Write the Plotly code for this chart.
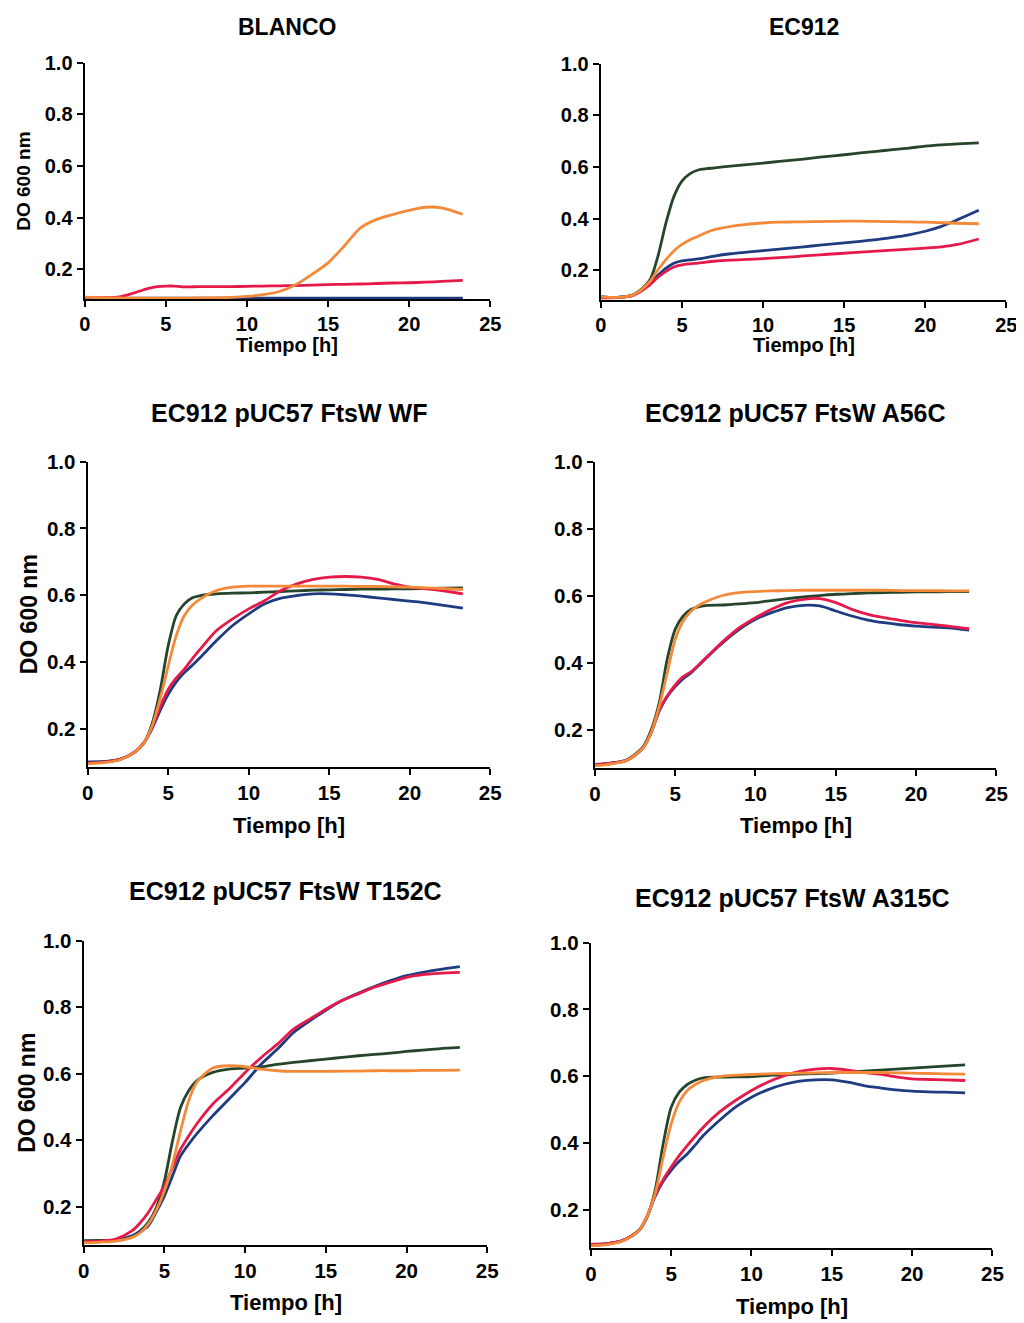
import plotly.graph_objects as go

W, H = 1024, 1323

# Time points (h)
T = [0, 1, 2, 3, 3.5, 4, 4.5, 5, 5.5, 6, 6.5, 7, 8, 9, 10, 11, 12, 13, 14, 15, 16, 17, 18, 19, 20, 21, 22, 23.3]

titles = ["BLANCO", "EC912", "EC912 pUC57 FtsW WF", "EC912 pUC57 FtsW A56C",
          "EC912 pUC57 FtsW T152C", "EC912 pUC57 FtsW A315C"]

# ---- BLANCO
blanco_green = [0.086, 0.086, 0.086, 0.086, 0.086, 0.086, 0.086, 0.086, 0.086, 0.086, 0.086, 0.086, 0.086, 0.086,
                0.086, 0.086, 0.086, 0.086, 0.086, 0.086, 0.086, 0.086, 0.086, 0.086, 0.086, 0.086, 0.086, 0.086]
blanco_blue = [0.088, 0.088, 0.088, 0.088, 0.088, 0.088, 0.088, 0.088, 0.088, 0.088, 0.088, 0.088, 0.088, 0.088,
               0.088, 0.088, 0.088, 0.088, 0.088, 0.088, 0.088, 0.088, 0.088, 0.088, 0.088, 0.088, 0.088, 0.088]
blanco_red = [0.09, 0.09, 0.092, 0.108, 0.118, 0.127, 0.133, 0.135, 0.135, 0.132, 0.132, 0.133, 0.133, 0.133,
              0.134, 0.135, 0.136, 0.137, 0.139, 0.141, 0.142, 0.143, 0.145, 0.147, 0.148, 0.15, 0.153, 0.157]
blanco_orange = [0.092, 0.09, 0.089, 0.088, 0.088, 0.088, 0.088, 0.088, 0.088, 0.088, 0.088, 0.089, 0.089, 0.091,
                 0.095, 0.102, 0.114, 0.14, 0.18, 0.225, 0.29, 0.36, 0.393, 0.412, 0.428, 0.44, 0.438, 0.413]

# ---- EC912
ec_green = [0.097, 0.095, 0.105, 0.16, 0.25, 0.38, 0.485, 0.545, 0.574, 0.588, 0.593, 0.596, 0.603, 0.609,
            0.615, 0.621, 0.627, 0.634, 0.641, 0.647, 0.654, 0.66, 0.667, 0.673, 0.68, 0.685, 0.689, 0.693]
ec_orange = [0.097, 0.095, 0.105, 0.155, 0.2, 0.24, 0.275, 0.3, 0.318, 0.332, 0.346, 0.357, 0.37, 0.378,
             0.383, 0.386, 0.387, 0.388, 0.389, 0.39, 0.39, 0.389, 0.388, 0.387, 0.386, 0.384, 0.382, 0.38]
ec_blue = [0.097, 0.095, 0.105, 0.15, 0.18, 0.207, 0.227, 0.236, 0.24, 0.244, 0.249, 0.255, 0.264, 0.27,
           0.276, 0.282, 0.288, 0.294, 0.3, 0.306, 0.312, 0.319, 0.327, 0.337, 0.351, 0.37, 0.396, 0.432]
ec_red = [0.093, 0.094, 0.103, 0.143, 0.172, 0.195, 0.213, 0.221, 0.225, 0.228, 0.232, 0.235, 0.239, 0.242,
          0.245, 0.249, 0.253, 0.258, 0.262, 0.266, 0.27, 0.274, 0.278, 0.282, 0.286, 0.291, 0.3, 0.321]

# ---- WF
wf_green = [0.1, 0.101, 0.108, 0.133, 0.158, 0.215, 0.315, 0.449, 0.539, 0.574, 0.592, 0.599, 0.604, 0.606,
            0.607, 0.609, 0.611, 0.613, 0.615, 0.616, 0.617, 0.618, 0.618, 0.619, 0.619, 0.62, 0.621, 0.622]
wf_orange = [0.095, 0.098, 0.107, 0.133, 0.158, 0.208, 0.29, 0.388, 0.479, 0.539, 0.57, 0.589, 0.614, 0.624,
             0.627, 0.627, 0.627, 0.627, 0.627, 0.627, 0.627, 0.626, 0.626, 0.625, 0.624, 0.622, 0.62, 0.617]
wf_red = [0.097, 0.1, 0.108, 0.133, 0.158, 0.205, 0.265, 0.318, 0.352, 0.378, 0.41, 0.439, 0.494, 0.529,
          0.559, 0.584, 0.614, 0.634, 0.647, 0.654, 0.656, 0.654, 0.647, 0.634, 0.624, 0.619, 0.614, 0.604]
wf_blue = [0.1, 0.101, 0.108, 0.133, 0.158, 0.2, 0.255, 0.303, 0.34, 0.368, 0.39, 0.414, 0.464, 0.509,
           0.544, 0.574, 0.591, 0.599, 0.604, 0.604, 0.601, 0.597, 0.592, 0.587, 0.582, 0.577, 0.57, 0.561]

# ---- A56C
a56_green = [0.096, 0.1, 0.11, 0.148, 0.198, 0.278, 0.409, 0.499, 0.539, 0.559, 0.567, 0.571, 0.572, 0.575,
             0.579, 0.585, 0.591, 0.596, 0.6, 0.604, 0.606, 0.608, 0.609, 0.61, 0.611, 0.611, 0.612, 0.612]
a56_orange = [0.092, 0.097, 0.108, 0.145, 0.19, 0.268, 0.368, 0.469, 0.524, 0.554, 0.572, 0.584, 0.601, 0.609,
              0.612, 0.614, 0.615, 0.616, 0.616, 0.616, 0.616, 0.616, 0.616, 0.615, 0.615, 0.615, 0.614, 0.614]
a56_red = [0.095, 0.099, 0.108, 0.145, 0.19, 0.258, 0.3, 0.333, 0.358, 0.373, 0.395, 0.418, 0.464, 0.504,
           0.534, 0.559, 0.579, 0.589, 0.591, 0.579, 0.559, 0.544, 0.534, 0.526, 0.519, 0.514, 0.509, 0.501]
a56_blue = [0.095, 0.099, 0.108, 0.145, 0.19, 0.255, 0.298, 0.328, 0.352, 0.37, 0.393, 0.417, 0.461, 0.499,
            0.529, 0.549, 0.564, 0.571, 0.569, 0.554, 0.539, 0.527, 0.519, 0.513, 0.509, 0.506, 0.504, 0.497]

# ---- T152C
t152_green = [0.098, 0.099, 0.1, 0.113, 0.128, 0.153, 0.198, 0.278, 0.398, 0.499, 0.549, 0.579, 0.604, 0.614,
              0.617, 0.621, 0.628, 0.634, 0.639, 0.644, 0.649, 0.654, 0.658, 0.662, 0.667, 0.671, 0.675, 0.679]
t152_orange = [0.092, 0.094, 0.097, 0.108, 0.122, 0.148, 0.19, 0.248, 0.328, 0.429, 0.519, 0.574, 0.617, 0.624,
               0.621, 0.614, 0.609, 0.607, 0.607, 0.607, 0.608, 0.608, 0.609, 0.609, 0.609, 0.61, 0.61, 0.611]
t152_red = [0.095, 0.097, 0.103, 0.128, 0.152, 0.183, 0.222, 0.263, 0.318, 0.373, 0.413, 0.449, 0.509, 0.554,
            0.604, 0.649, 0.689, 0.734, 0.764, 0.794, 0.82, 0.84, 0.86, 0.875, 0.89, 0.898, 0.902, 0.905]
t152_blue = [0.093, 0.095, 0.099, 0.112, 0.125, 0.143, 0.185, 0.233, 0.293, 0.353, 0.388, 0.419, 0.474, 0.524,
             0.574, 0.629, 0.674, 0.724, 0.759, 0.791, 0.82, 0.842, 0.862, 0.88, 0.895, 0.905, 0.913, 0.922]

# ---- A315C
a315_green = [0.093, 0.097, 0.108, 0.138, 0.178, 0.258, 0.397, 0.507, 0.552, 0.575, 0.588, 0.595, 0.597, 0.598,
              0.599, 0.602, 0.605, 0.606, 0.608, 0.609, 0.612, 0.615, 0.618, 0.621, 0.624, 0.627, 0.63, 0.634]
a315_orange = [0.092, 0.095, 0.107, 0.138, 0.18, 0.248, 0.357, 0.457, 0.522, 0.557, 0.575, 0.587, 0.599, 0.603,
               0.605, 0.607, 0.608, 0.609, 0.61, 0.611, 0.611, 0.611, 0.611, 0.61, 0.609, 0.608, 0.607, 0.606]
a315_red = [0.096, 0.098, 0.108, 0.138, 0.18, 0.243, 0.29, 0.328, 0.362, 0.392, 0.42, 0.447, 0.492, 0.527,
            0.557, 0.582, 0.601, 0.614, 0.621, 0.623, 0.618, 0.611, 0.606, 0.598, 0.592, 0.59, 0.589, 0.587]
a315_blue = [0.096, 0.098, 0.108, 0.138, 0.18, 0.24, 0.285, 0.318, 0.345, 0.367, 0.394, 0.422, 0.467, 0.507,
             0.537, 0.559, 0.575, 0.585, 0.589, 0.589, 0.582, 0.572, 0.565, 0.559, 0.555, 0.553, 0.552, 0.55]

panels_data = [
    dict(green=blanco_green, blue=blanco_blue, red=blanco_red, orange=blanco_orange),
    dict(green=ec_green, blue=ec_blue, red=ec_red, orange=ec_orange),
    dict(green=wf_green, blue=wf_blue, red=wf_red, orange=wf_orange),
    dict(green=a56_green, blue=a56_blue, red=a56_red, orange=a56_orange),
    dict(green=t152_green, blue=t152_blue, red=t152_red, orange=t152_orange),
    dict(green=a315_green, blue=a315_blue, red=a315_red, orange=a315_orange),
]

colors = dict(green="#27452a", blue="#1f3c80", red="#e61a4a", orange="#f28a3a")
draw_order = ["green", "blue", "red", "orange"]

x_ticks = [0, 5, 10, 15, 20, 25]
y_ticks = [0.2, 0.4, 0.6, 0.8, 1.0]
y_tick_text = ["0.2", "0.4", "0.6", "0.8", "1.0"]

# layout geometry in target pixels: (x_left, x_right, y_top, y_bottom)
geom = [
    (83, 490, 60, 297),
    (601, 1008, 61, 298),
    (86, 490, 460, 766),
    (595, 998, 460, 767),
    (82, 487, 940, 1245),
    (591, 994, 942, 1248),
]
title_y = [24, 24, 411, 411, 890, 897]
title_size = [23, 23, 25, 25, 25, 25]
tick_size = [20, 20, 20.5, 20.5, 20.5, 20.5]
xlab_size = [20, 20, 22, 22, 22, 22]
ylab_size = [19, 19, 23, 23, 23, 23]
xlab_y = [343, 343, 825, 825, 1303, 1307]
ylab_x = [22, None, 27, None, 25, None]

FONT = "Liberation Sans, Arial, sans-serif"
YMIN = 0.085

# empirical correction of page placement (screen px -> figure px)
AX, BX = 0.987, 12.0
AY, BY = 0.993, 17.4


def px(xs):
    return ((xs - BX) / AX) / W


def py(ys):
    return 1 - ((ys - BY) / AY) / H


fig = go.Figure()
annotations = []
for i, (pdata, (xl, xr, yt, yb)) in enumerate(zip(panels_data, geom)):
    k = i + 1
    xa = "x" if k == 1 else f"x{k}"
    ya = "y" if k == 1 else f"y{k}"
    for s in draw_order:
        fig.add_trace(go.Scatter(x=T, y=pdata[s], mode="lines", xaxis=xa, yaxis=ya,
                                 line=dict(color=colors[s], width=2.8, shape="spline", smoothing=0.8),
                                 showlegend=False, hoverinfo="skip"))
    common = dict(showline=True, linecolor="black", linewidth=2.4, ticks="outside", ticklen=6,
                  tickwidth=2.2, tickcolor="black", showgrid=False, zeroline=False,
                  tickfont=dict(family=FONT, size=tick_size[i], color="black", weight="bold"))
    xkey = "xaxis" if k == 1 else f"xaxis{k}"
    ykey = "yaxis" if k == 1 else f"yaxis{k}"
    fig.layout[xkey] = dict(domain=[px(xl), px(xr)], range=[0, 25], tickvals=x_ticks,
                            anchor=ya, **common)
    fig.layout[ykey] = dict(domain=[py(yb), py(yt)], range=[YMIN, 1.0], tickvals=y_ticks,
                            ticktext=y_tick_text, anchor=xa, **common)
    # Title
    annotations.append(dict(text=f"<b>{titles[i]}</b>", x=px((xl + xr) / 2), y=py(title_y[i]),
                            xref="paper", yref="paper", showarrow=False, xanchor="center", yanchor="middle",
                            font=dict(family=FONT, size=title_size[i], color="black")))
    # X label
    annotations.append(dict(text="<b>Tiempo [h]</b>", x=px((xl + xr) / 2), y=py(xlab_y[i]),
                            xref="paper", yref="paper", showarrow=False, xanchor="center", yanchor="middle",
                            font=dict(family=FONT, size=xlab_size[i], color="black")))
    # Y label on left column
    if ylab_x[i] is not None:
        annotations.append(dict(text="<b>DO 600 nm</b>", x=px(ylab_x[i]), y=py((yt + yb) / 2),
                                xref="paper", yref="paper", showarrow=False, textangle=-90,
                                xanchor="center", yanchor="middle",
                                font=dict(family=FONT, size=ylab_size[i], color="black")))

fig.update_layout(width=W, height=H, margin=dict(l=0, r=0, t=0, b=0),
                  plot_bgcolor="white", paper_bgcolor="white", annotations=annotations,
                  showlegend=False)

fig.write_html("out.html")
